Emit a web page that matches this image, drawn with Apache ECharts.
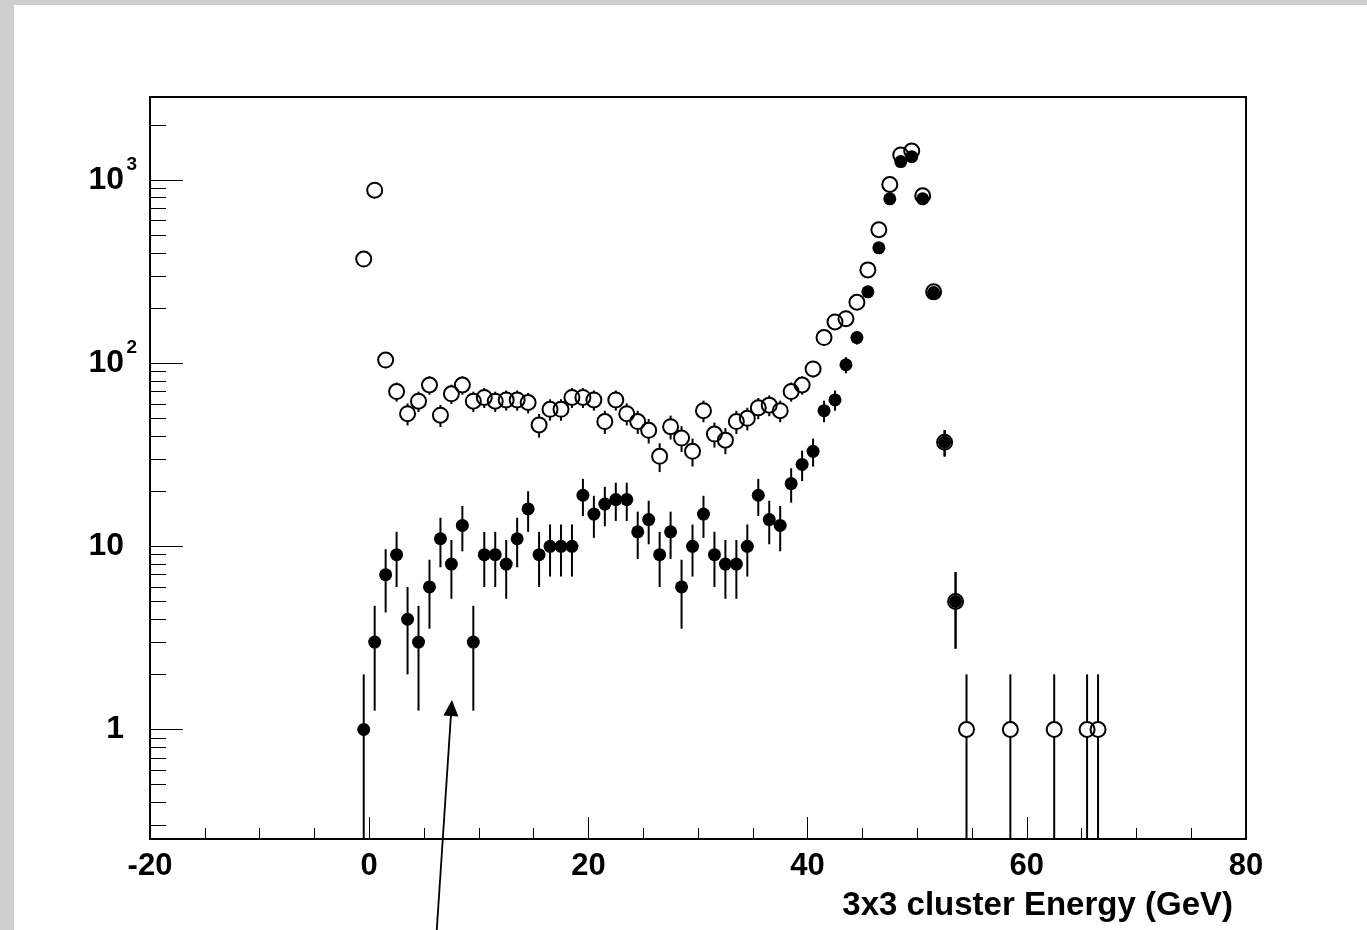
<!DOCTYPE html>
<html>
<head>
<meta charset="utf-8">
<script src="https://cdn.jsdelivr.net/npm/echarts@6/dist/echarts.min.js"></script>
<style>
  html, body { margin: 0; padding: 0; background: #ffffff; }
  #chart { width: 1367px; height: 930px; }
</style>
</head>
<body>
<div id="chart"></div>
<script>
// 3x3 cluster energy spectrum: all events (open) and selected events (filled), 1 GeV bins
const openEnergy = [
  -0.5, 0.5, 1.5, 2.5, 3.5, 4.5, 5.5, 6.5, 7.5, 8.5, 9.5,
  10.5, 11.5, 12.5, 13.5, 14.5, 15.5, 16.5, 17.5, 18.5, 19.5,
  20.5, 21.5, 22.5, 23.5, 24.5, 25.5, 26.5, 27.5, 28.5, 29.5,
  30.5, 31.5, 32.5, 33.5, 34.5, 35.5, 36.5, 37.5, 38.5, 39.5,
  40.5, 41.5, 42.5, 43.5, 44.5, 45.5, 46.5, 47.5, 48.5, 49.5,
  50.5, 51.5, 52.5, 53.5, 54.5, 58.5, 62.5, 65.5, 66.5
];
const openCounts = [
  370, 880, 104, 70, 53, 62, 76, 52, 68, 76, 62,
  65, 62, 63, 63, 61, 46, 56, 56, 65, 65,
  63, 48, 63, 53, 48, 43, 31, 45, 39, 33,
  55, 41, 38, 48, 50, 57, 59, 55, 70, 76,
  93, 138, 168, 175, 215, 323, 535, 945, 1370, 1440,
  820, 245, 37, 5, 1, 1, 1, 1, 1
];
const filledEnergy = [
  -0.5, 0.5, 1.5, 2.5, 3.5, 4.5, 5.5, 6.5, 7.5, 8.5, 9.5,
  10.5, 11.5, 12.5, 13.5, 14.5, 15.5, 16.5, 17.5, 18.5, 19.5,
  20.5, 21.5, 22.5, 23.5, 24.5, 25.5, 26.5, 27.5, 28.5, 29.5,
  30.5, 31.5, 32.5, 33.5, 34.5, 35.5, 36.5, 37.5, 38.5, 39.5,
  40.5, 41.5, 42.5, 43.5, 44.5, 45.5, 46.5, 47.5, 48.5, 49.5,
  50.5, 51.5, 52.5, 53.5
];
const filledCounts = [
  1, 3, 7, 9, 4, 3, 6, 11, 8, 13, 3,
  9, 9, 8, 11, 16, 9, 10, 10, 10, 19,
  15, 17, 18, 18, 12, 14, 9, 12, 6, 10,
  15, 9, 8, 8, 10, 19, 14, 13, 22, 28,
  33, 55, 63, 98, 138, 245, 426, 789, 1260, 1340,
  789, 243, 37, 5
];

// axis ticks and labels
const xRange = [-20, 80];
const xTickValues = [-20, 0, 20, 40, 60, 80];
const xMinorTickValues = [-15, -10, -5, 5, 10, 15, 25, 30, 35, 45, 50, 55, 65, 70, 75];
const yRange = [0.2525, 2838];
const yTickLabels = ['1', '10', '10^2', '10^3'];
const xTitle = '3x3 cluster Energy (GeV)';

// arrow annotation (energy, counts)
const arrowTip = [7.55, 1.45];
const arrowTail = [6.15, 0.078];

const FONT = '"Liberation Sans", Arial, Helvetica, sans-serif';
const logMin = Math.log10(yRange[0]);
const logMax = Math.log10(yRange[1]);
const yDecades = yTickLabels.map((_, i) => i);

// minor log ticks at 2..9 x 10^n inside the range
const yMinorTicks = [];
for (let d = -1; d <= 3; d++) {
  for (let k = 2; k <= 9; k++) {
    const v = k * Math.pow(10, d);
    if (v > yRange[0] && v < yRange[1]) yMinorTicks.push(Math.log10(v));
  }
}

function points(energy, counts) {
  return energy.map((e, i) => [e, Math.log10(counts[i])]);
}

// [energy, log(n), log(n - sqrt n), log(n + sqrt n)]
function errorBarData(energy, counts) {
  return energy.map((e, i) => {
    const n = counts[i];
    const s = Math.sqrt(n);
    const lo = n - s > yRange[0] ? Math.log10(n - s) : logMin;
    return [e, Math.log10(n), lo, Math.log10(n + s)];
  });
}

function errorBars(markerRadius) {
  return function (params, api) {
    const x = api.value(0);
    const c = api.coord([x, api.value(1)]);
    const lo = api.coord([x, api.value(2)]);
    const hi = api.coord([x, api.value(3)]);
    const style = { stroke: '#000', lineWidth: 2 };
    const children = [];
    if (c[1] - markerRadius > hi[1]) {
      children.push({ type: 'line', shape: { x1: c[0], y1: hi[1], x2: c[0], y2: c[1] - markerRadius }, style });
    }
    if (lo[1] > c[1] + markerRadius) {
      children.push({ type: 'line', shape: { x1: c[0], y1: c[1] + markerRadius, x2: c[0], y2: lo[1] }, style });
    }
    return { type: 'group', children };
  };
}

const chart = echarts.init(document.getElementById('chart'), null, { renderer: 'canvas' });

const hiddenLine = { show: false, onZero: false };

chart.setOption({
  animation: false,
  backgroundColor: '#ffffff',
  title: {
    text: xTitle,
    right: 134,
    top: 889,
    padding: 0,
    textStyle: { fontFamily: FONT, fontWeight: 'bold', fontSize: 33, lineHeight: 33, color: '#000' }
  },
  grid: {
    left: 150, top: 97, width: 1096, height: 742,
    show: true, borderColor: '#000', borderWidth: 2, backgroundColor: 'transparent'
  },
  xAxis: [
    {
      type: 'value', min: xRange[0], max: xRange[1], interval: 20, position: 'bottom',
      axisLine: hiddenLine, splitLine: { show: false },
      axisTick: { show: true, inside: true, length: 22, customValues: xTickValues, lineStyle: { color: '#000', width: 1 } },
      axisLabel: {
        customValues: xTickValues, margin: 12,
        fontFamily: FONT, fontWeight: 'bold', fontSize: 31, color: '#000',
        formatter: v => String(v)
      }
    },
    {
      type: 'value', min: xRange[0], max: xRange[1], position: 'bottom',
      axisLine: hiddenLine, splitLine: { show: false }, axisLabel: { show: false },
      axisTick: { show: true, inside: true, length: 11, customValues: xMinorTickValues, lineStyle: { color: '#000', width: 1 } }
    }
  ],
  yAxis: [
    {
      type: 'value', min: logMin, max: logMax, position: 'left',
      axisLine: hiddenLine, splitLine: { show: false },
      axisTick: { show: true, inside: true, length: 33, customValues: yDecades, lineStyle: { color: '#000', width: 1 } },
      axisLabel: {
        customValues: yDecades, margin: 13,
        formatter: v => {
          const parts = yTickLabels[Math.round(v)].split('^');
          return '{b|' + parts[0] + '}{s|' + (parts[1] || ' ') + '}';
        },
        rich: {
          b: { fontFamily: FONT, fontWeight: 'bold', fontSize: 32, lineHeight: 50, color: '#000', verticalAlign: 'middle' },
          s: { fontFamily: FONT, fontWeight: 'bold', fontSize: 19, lineHeight: 19, color: '#000', verticalAlign: 'top', width: 13, align: 'right' }
        }
      }
    },
    {
      type: 'value', min: logMin, max: logMax, position: 'left',
      axisLine: hiddenLine, splitLine: { show: false }, axisLabel: { show: false },
      axisTick: { show: true, inside: true, length: 16, customValues: yMinorTicks, lineStyle: { color: '#000', width: 1 } }
    }
  ],
  series: [
    {
      name: 'all errors', type: 'custom', silent: true, clip: true,
      xAxisIndex: 0, yAxisIndex: 0,
      renderItem: errorBars(7.5),
      encode: { x: 0, y: 1 },
      data: errorBarData(openEnergy, openCounts)
    },
    {
      name: 'all', type: 'scatter', silent: true,
      xAxisIndex: 0, yAxisIndex: 0,
      symbol: 'circle', symbolSize: 15,
      itemStyle: { color: 'rgba(0,0,0,0)', borderColor: '#000', borderWidth: 2, opacity: 1 },
      data: points(openEnergy, openCounts)
    },
    {
      name: 'selected errors', type: 'custom', silent: true, clip: true,
      xAxisIndex: 0, yAxisIndex: 0,
      renderItem: errorBars(0),
      encode: { x: 0, y: 1 },
      data: errorBarData(filledEnergy, filledCounts)
    },
    {
      name: 'selected', type: 'scatter', silent: true,
      xAxisIndex: 0, yAxisIndex: 0,
      symbol: 'circle', symbolSize: 13,
      itemStyle: { color: '#000', opacity: 1 },
      data: points(filledEnergy, filledCounts)
    }
  ]
});

// canvas edge strips and the arrow annotation
const finder = { xAxisIndex: 0, yAxisIndex: 0 };
const tip = chart.convertToPixel(finder, [arrowTip[0], Math.log10(arrowTip[1])]);
const tail = chart.convertToPixel(finder, [arrowTail[0], Math.log10(arrowTail[1])]);
const dx = tip[0] - tail[0], dy = tip[1] - tail[1];
const len = Math.hypot(dx, dy);
const ux = dx / len, uy = dy / len;
const headLen = 16, headHalf = 7.5;
const bx = tip[0] - ux * headLen, by = tip[1] - uy * headLen;

chart.setOption({
  graphic: [
    { type: 'rect', silent: true, z: -10, shape: { x: 0, y: 0, width: 14, height: 930 }, style: { fill: '#cfcfcf' } },
    { type: 'rect', silent: true, z: -10, shape: { x: 0, y: 0, width: 1367, height: 5 }, style: { fill: '#cfcfcf' } },
    {
      type: 'line', silent: true, z: 10,
      shape: { x1: tail[0], y1: tail[1], x2: bx, y2: by },
      style: { stroke: '#000', lineWidth: 1.8 }
    },
    {
      type: 'polygon', silent: true, z: 10,
      shape: { points: [tip, [bx - uy * headHalf, by + ux * headHalf], [bx + uy * headHalf, by - ux * headHalf]] },
      style: { fill: '#000' }
    }
  ]
});
</script>
</body>
</html>
